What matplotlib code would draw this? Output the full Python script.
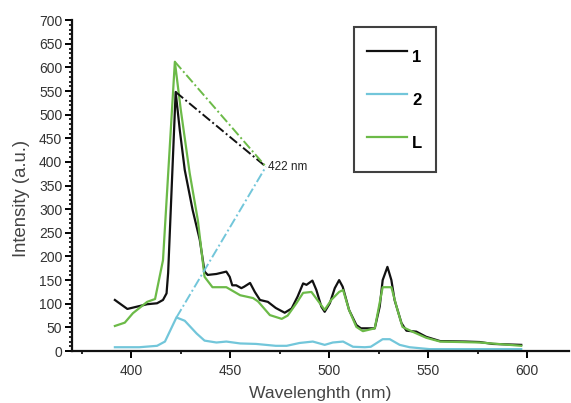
import matplotlib
matplotlib.use('Agg')
import matplotlib.pyplot as plt
from matplotlib.ticker import MultipleLocator

plt.rcParams['font.family'] = ['Liberation Sans', 'DejaVu Sans']

# curve 1 (black)
wl_1 = [391.7, 393, 398, 404, 408, 413, 416, 417.8, 418.6, 422.4, 424.5, 427, 431,
        434.6, 437, 438.6, 443, 448, 449.7, 451, 453, 455.6, 457, 460, 462.4,
        465, 469, 473, 477.5, 481, 484, 486.8, 488.5, 491.5, 493.5, 496, 497.7,
        500.3, 502.8, 505, 506.8, 510, 513.7, 516, 523, 525.5, 527, 529.4, 531.4,
        533, 536.5, 539, 544, 549, 556, 569, 576, 582.6, 597]
int_1 = [108, 104, 89, 95, 99, 101, 108, 122, 165, 548, 467, 383, 298,
         235, 168, 161, 163, 168, 157, 139, 139, 133, 136, 144, 125,
         108, 104, 91, 81, 90, 115, 143, 140, 149, 129, 94, 83,
         101, 133, 150, 136, 87, 55, 48, 48, 94, 150, 178, 150,
         108, 59, 43, 41, 30, 21, 20, 19, 15, 13]

# curve 2 (cyan)
wl_2 = [391.7, 404, 413, 417, 422.8, 427, 433, 437, 443, 448, 455, 463, 473,
        478.5, 485, 491.7, 497.7, 501.8, 507, 512, 518, 521, 527, 530.6, 535.6,
        540.6, 550.7, 597]
int_2 = [8, 8, 11, 20, 71, 64, 37, 22, 18, 20, 16, 15, 11,
         11, 17, 20, 13, 18, 20, 9, 8, 9, 25, 25, 13,
         8, 4, 4]

# ligand L (green)
wl_L = [391.7, 396.7, 400.8, 408, 412, 416, 422, 425, 429.5, 433.6, 437, 441,
        448, 455, 461.5, 464, 470, 476, 479, 483.4, 486.8, 491, 494, 497.7,
        501, 505, 507, 510, 513.7, 517, 523, 527, 531.4, 534, 537, 542, 549,
        556, 576, 597]
int_L = [53, 60, 80, 104, 110, 192, 612, 510, 376, 277, 157, 135,
         135, 118, 112, 105, 76, 68, 75, 101, 123, 125, 108, 87,
         108, 125, 129, 87, 51, 42, 48, 135, 135, 94, 51, 41, 28,
         20, 18, 11]

# excitation marker
label_pt = (468, 390)

c_black = '#111111'
c_cyan = '#72c6da'
c_green = '#6cba48'

fig = plt.figure(figsize=(5.71, 4.03), dpi=100)
ax = fig.add_axes([0.126, 0.129, 0.870, 0.821])

ax.plot(wl_1, int_1, color=c_black, lw=1.6, label='1')
ax.plot(wl_2, int_2, color=c_cyan, lw=1.6, label='2')
ax.plot(wl_L, int_L, color=c_green, lw=1.6, label='L')

# dashed guides from each peak to the 422 nm label
for wl, inten, col in [(wl_1, int_1, c_black), (wl_L, int_L, c_green), (wl_2, int_2, c_cyan)]:
    i = max(range(len(inten)), key=lambda k: inten[k])
    ax.plot([wl[i], label_pt[0]], [inten[i], label_pt[1]], color=col,
            lw=1.4, ls=(0, (5, 1.5, 1, 1.5)))
ax.text(label_pt[0] + 1, label_pt[1], '422 nm', fontsize=8.5, color='#222222',
        ha='left', va='center')

ax.set_xlim(370, 621)
ax.set_ylim(0, 700)
ax.xaxis.set_major_locator(MultipleLocator(50))
ax.xaxis.set_minor_locator(MultipleLocator(25))
ax.yaxis.set_major_locator(MultipleLocator(50))
ax.yaxis.set_minor_locator(MultipleLocator(10))

for s in ['top', 'right']:
    ax.spines[s].set_visible(False)
for s in ['left', 'bottom']:
    ax.spines[s].set_linewidth(1.6)
    ax.spines[s].set_color('#111111')

ax.tick_params(which='major', direction='out', length=5, width=1.4,
               labelsize=10, labelcolor='#333333', pad=2)
ax.tick_params(which='minor', direction='out', length=2.5, width=1.2)
ax.tick_params(axis='x', which='major', pad=4)

ax.set_xlabel('Wavelenghth (nm)', fontsize=12.6, color='#444444', labelpad=6)
ax.set_ylabel('Intensity (a.u.)', fontsize=13.3, color='#444444')
ax.yaxis.set_label_coords(-0.085, 0.46)

leg = ax.legend(loc='upper left', bbox_to_anchor=(354 / 571, 1 - 27 / 403),
                bbox_transform=fig.transFigure, frameon=True, fancybox=False,
                handlelength=2.4, handleheight=2.6, handletextpad=0.3,
                labelspacing=0.65, borderpad=0.8, borderaxespad=0,
                prop={'weight': 'bold', 'size': 12})
leg.get_frame().set_edgecolor('#111111')
leg.get_frame().set_linewidth(1.5)
for line in leg.get_lines():
    line.set_linewidth(1.6)

fig.savefig('out.png', dpi=100)
